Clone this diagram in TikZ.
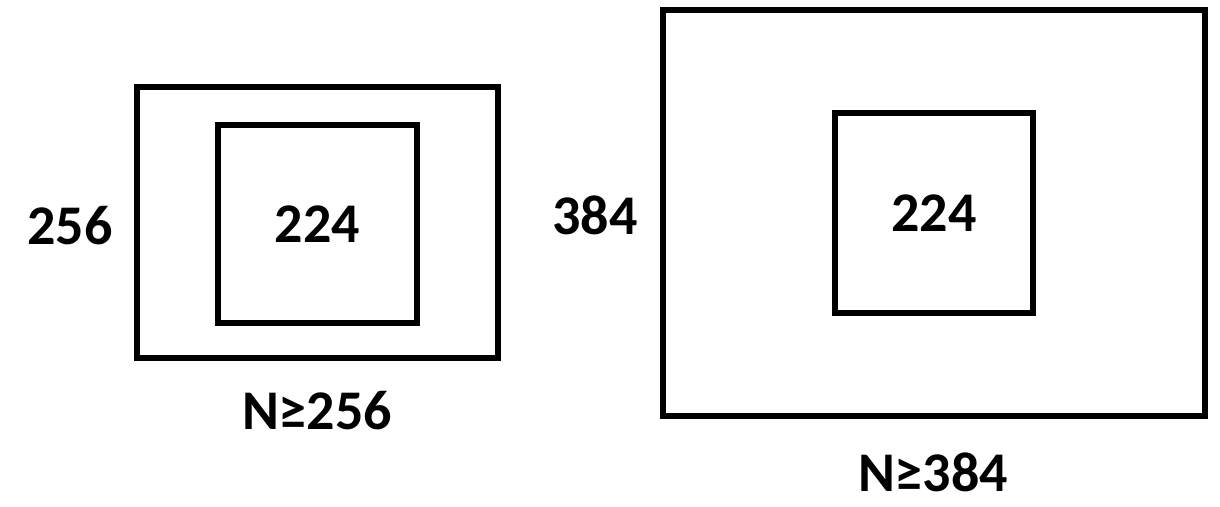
\documentclass[tikz,border=0pt]{standalone}
\usepackage{fontspec}
\setmainfont{Carlito}

\begin{document}
\begin{tikzpicture}
  [x=1pt,y=-1pt,every node/.style={font=\fontsize{56}{60}\selectfont\bfseries,inner sep=0pt},
   frame/.style={draw,line width=6pt,rectangle}]
  \useasboundingbox (0,0) rectangle (1220,506);

  \node[frame,minimum width=361pt,minimum height=271pt] (outer1) at (317.5,222.5) {};
  \node[frame,minimum width=199pt,minimum height=198pt] (inner1) at (317.5,224) {224};
  \node[frame,minimum width=542pt,minimum height=406pt] (outer2) at (934,213) {};
  \node[frame,minimum width=198pt,minimum height=200pt] (inner2) at (934,213) {224};

  \foreach \name/\x/\y/\txt in {side1/70/226/256,side2/595/215/384,n1/317/411/N≥256,n2/933/472/N≥384}
    \node (\name) at (\x,\y) {\txt};

\end{tikzpicture}
\end{document}
